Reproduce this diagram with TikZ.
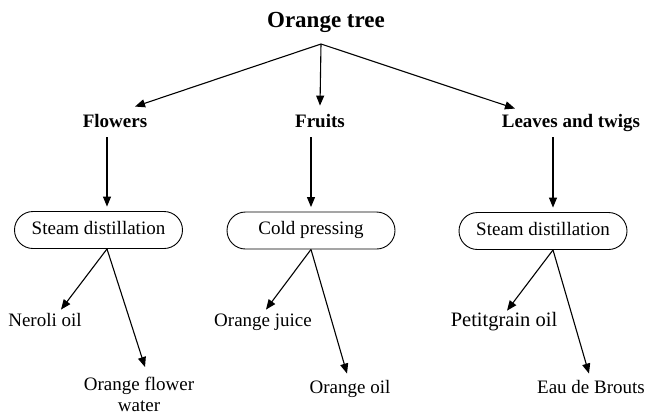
\documentclass[tikz,border=0pt]{standalone}
\usepackage{fontspec}
\setmainfont{Liberation Serif}
\usetikzlibrary{arrows.meta,positioning,calc}

\begin{document}
\begin{tikzpicture}[
  x=1pt, y=-1pt,
  font=\fontsize{19}{22}\selectfont,
  head/.style={font=\fontsize{19}{22}\selectfont\bfseries, anchor=base, text height=0.75em, text depth=0.25em},
  prod/.style={anchor=base, text height=0.75em, text depth=0.25em},
  proc/.style={draw=black, rounded corners=18.5pt, minimum width=168pt, minimum height=37pt, line width=0.9pt, inner sep=2pt, text height=0.8em, text depth=0pt},
  arrow/.style={-{Triangle[length=10pt, width=8pt]}, line width=1.1pt},
]
  \useasboundingbox (0,0) rectangle (649,416);

  \node[font=\fontsize{23}{26}\selectfont\bfseries, anchor=base] (tree) at (326,27.5) {Orange tree};
  \coordinate (fork) at (321,44);

  \node[head] (flowers) at (115,127) {Flowers};
  \node[head] (fruits) at (320,127) {Fruits};
  \node[head] (leaves) at (571,127) {Leaves and twigs};

  \draw[arrow] (fork) -- ([xshift=20pt,yshift=9.4pt]flowers.north);
  \draw[arrow] (fork) -- ([yshift=10.4pt]fruits.north);
  \draw[arrow] (fork) -- ([xshift=-56pt,yshift=7.4pt]leaves.north);

  \node[proc] (steamA) at (98.5,230) {Steam distillation};
  \node[proc] (press) at (311,230.5) {Cold pressing};
  \node[proc] (steamB) at (543,231) {Steam distillation};

  \coordinate (flowersout) at ([xshift=-8pt,yshift=-4pt]flowers.south);
  \coordinate (fruitsout) at ([xshift=-9pt,yshift=-4pt]fruits.south);
  \coordinate (leavesout) at ([xshift=-18pt,yshift=-4pt]leaves.south);
  \draw[arrow, shorten >=4.5pt] (flowersout) -- (flowersout |- steamA.north);
  \draw[arrow, shorten >=4.5pt] (fruitsout) -- (fruitsout |- press.north);
  \draw[arrow, shorten >=4.5pt] (leavesout) -- (leavesout |- steamB.north);

  \node[prod] (neroli) at (45,326) {Neroli oil};
  \node[align=center, anchor=north, inner sep=2pt, font=\fontsize{19}{20.5}\selectfont] (water) at (139,375) {Orange flower\\water};
  \node[prod] (juice) at (263,326) {Orange juice};
  \node[prod] (oil) at (350,393) {Orange oil};
  \node[prod, font=\fontsize{20.5}{24}\selectfont] (petit) at (504,326) {Petitgrain oil};
  \node[prod] (brouts) at (591,393) {Eau de Brouts};

  \draw[arrow] (flowersout |- steamA.south) -- ([xshift=6pt,yshift=8pt]water.north);
  \draw[arrow] (flowersout |- steamA.south) -- ([xshift=16pt,yshift=5.4pt]neroli.north);
  \draw[arrow] (fruitsout |- press.south) -- ([xshift=3pt,yshift=5.4pt]juice.north);
  \draw[arrow] (fruitsout |- press.south) -- ([xshift=-3pt,yshift=8.4pt]oil.north);
  \draw[arrow] (leavesout |- steamB.south) -- ([xshift=3pt,yshift=4.3pt]petit.north);
  \draw[arrow] (leavesout |- steamB.south) -- ([xshift=-2pt,yshift=8.4pt]brouts.north);
\end{tikzpicture}
\end{document}
